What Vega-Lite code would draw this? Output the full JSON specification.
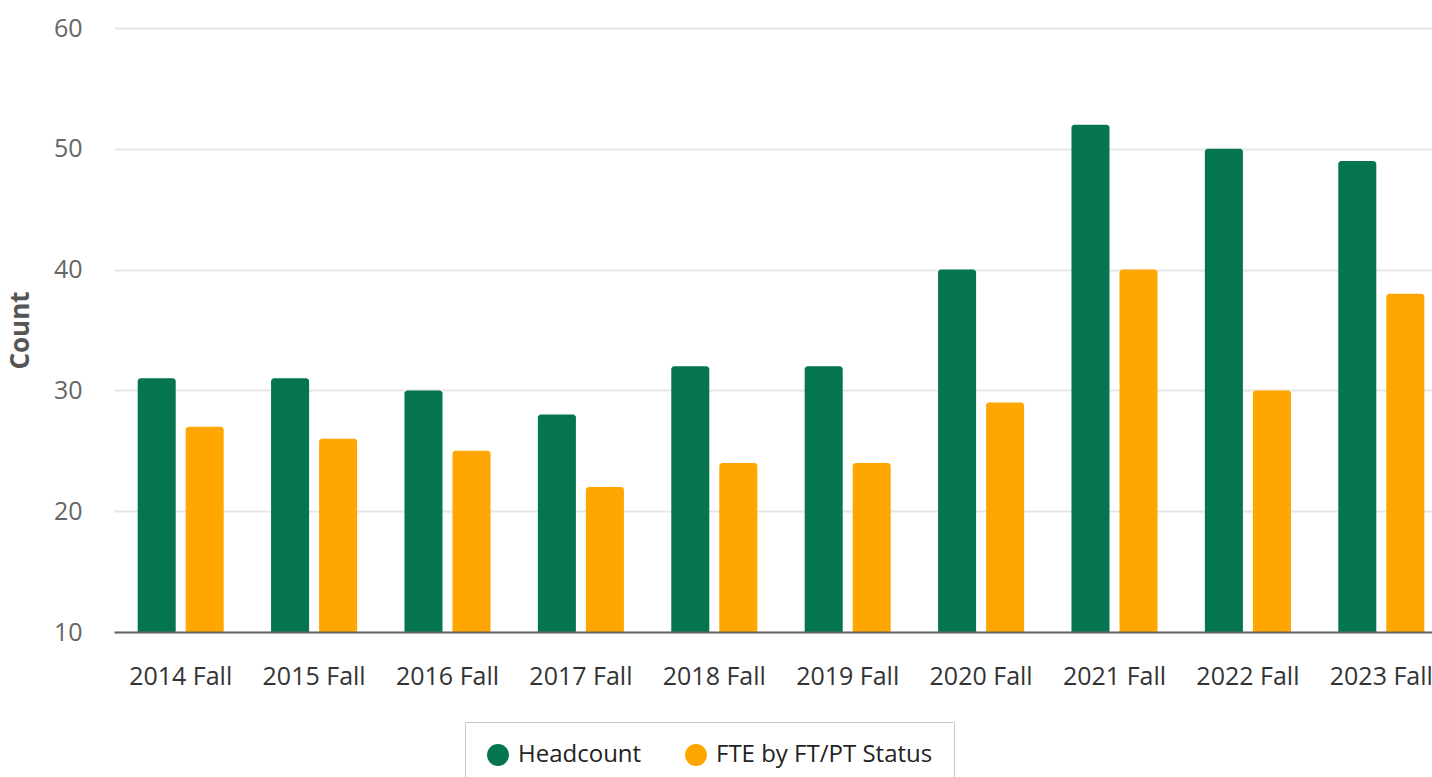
{
  "$schema": "https://vega.github.io/schema/vega-lite/v6.json",
  "autosize": {"type": "none"},
  "width": 1334,
  "height": 604,
  "padding": {"left": 114, "top": 28, "right": 0, "bottom": 145},
  "background": "white",
  "config": {
    "font": "Open Sans",
    "view": {"stroke": null}
  },
  "data": {
    "values": [
      {"term": "2014 Fall", "series": "Headcount", "value": 31},
      {"term": "2014 Fall", "series": "FTE by FT/PT Status", "value": 27},
      {"term": "2015 Fall", "series": "Headcount", "value": 31},
      {"term": "2015 Fall", "series": "FTE by FT/PT Status", "value": 26},
      {"term": "2016 Fall", "series": "Headcount", "value": 30},
      {"term": "2016 Fall", "series": "FTE by FT/PT Status", "value": 25},
      {"term": "2017 Fall", "series": "Headcount", "value": 28},
      {"term": "2017 Fall", "series": "FTE by FT/PT Status", "value": 22},
      {"term": "2018 Fall", "series": "Headcount", "value": 32},
      {"term": "2018 Fall", "series": "FTE by FT/PT Status", "value": 24},
      {"term": "2019 Fall", "series": "Headcount", "value": 32},
      {"term": "2019 Fall", "series": "FTE by FT/PT Status", "value": 24},
      {"term": "2020 Fall", "series": "Headcount", "value": 40},
      {"term": "2020 Fall", "series": "FTE by FT/PT Status", "value": 29},
      {"term": "2021 Fall", "series": "Headcount", "value": 52},
      {"term": "2021 Fall", "series": "FTE by FT/PT Status", "value": 40},
      {"term": "2022 Fall", "series": "Headcount", "value": 50},
      {"term": "2022 Fall", "series": "FTE by FT/PT Status", "value": 30},
      {"term": "2023 Fall", "series": "Headcount", "value": 49},
      {"term": "2023 Fall", "series": "FTE by FT/PT Status", "value": 38}
    ]
  },
  "mark": {"type": "bar", "cornerRadiusTopLeft": 3, "cornerRadiusTopRight": 3},
  "encoding": {
    "x": {
      "field": "term",
      "type": "nominal",
      "sort": null,
      "scale": {"paddingInner": 0.355, "paddingOuter": 0.1775},
      "axis": {
        "title": null,
        "labelAngle": 0,
        "ticks": false,
        "labelFontSize": 25,
        "labelColor": "#333333",
        "labelPadding": 32,
        "domainColor": "#666666",
        "domainWidth": 2,
        "grid": false,
        "zindex": 1
      }
    },
    "xOffset": {
      "field": "series",
      "type": "nominal",
      "sort": ["Headcount", "FTE by FT/PT Status"],
      "scale": {"paddingInner": 0.208, "paddingOuter": 0}
    },
    "y": {
      "field": "value",
      "type": "quantitative",
      "scale": {"domain": [10, 60], "nice": false, "zero": false},
      "axis": {
        "title": "Count",
        "titleFontSize": 26,
        "titleFontWeight": "bold",
        "titleColor": "#555555",
        "titlePadding": 20,
        "values": [10, 20, 30, 40, 50, 60],
        "labelFontSize": 25,
        "labelColor": "#666666",
        "labelPadding": 32,
        "ticks": false,
        "domain": false,
        "gridColor": "#e6e6e6",
        "gridWidth": 2
      }
    },
    "y2": {"datum": 10},
    "color": {
      "field": "series",
      "type": "nominal",
      "sort": ["Headcount", "FTE by FT/PT Status"],
      "scale": {"domain": ["Headcount", "FTE by FT/PT Status"], "range": ["#04754f", "#ffa600"]},
      "legend": {
        "title": null,
        "orient": "none",
        "direction": "horizontal",
        "legendX": 351,
        "legendY": 694,
        "symbolType": "circle",
        "symbolSize": 480,
        "symbolStrokeWidth": 0,
        "symbolOpacity": 1,
        "labelFontSize": 24,
        "labelColor": "#222222",
        "labelLimit": 400,
        "labelOffset": 8,
        "columnPadding": 42,
        "padding": 21,
        "strokeColor": "#c8c8c8"
      }
    }
  }
}
